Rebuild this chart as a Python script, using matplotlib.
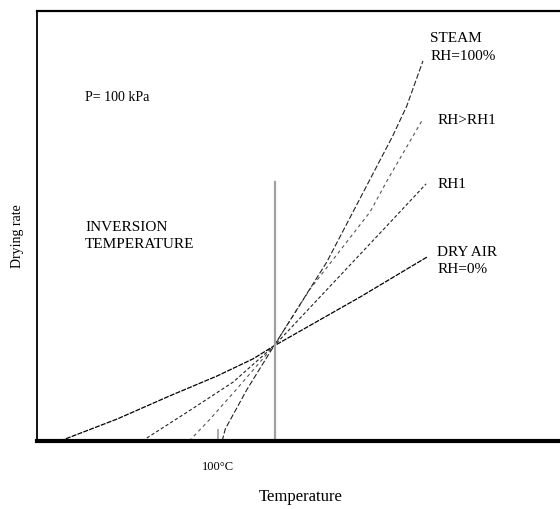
import matplotlib.pyplot as plt

plt.rcParams['font.family'] = ['Liberation Serif', 'DejaVu Serif']

# curves (arbitrary temperature / rate units)
dry_x = [4.4, 15.3, 25.4, 34.4, 41.3, 45.3, 61.8, 74.6]
dry_y = [0, 5.1, 10.5, 15.1, 19.1, 22.1, 33.5, 42.8]

rh1_x = [20.1, 28.7, 37.5, 45.3, 68.1, 74.4]
rh1_y = [0, 6.7, 13.7, 22.1, 51.6, 59.8]

rhgt_x = [29.1, 33.1, 38.2, 45.3, 52.2, 63.7, 67.1, 73.8]
rhgt_y = [0, 5.1, 12.1, 22.1, 35.3, 53.3, 60.9, 74.9]

steam_x = [35.4, 36.0, 40.2, 45.3, 55.4, 63.7, 68.0, 70.7, 73.8]
steam_y = [0, 2.8, 12.1, 22.1, 41.6, 60.9, 70.9, 77.9, 88.4]

t_inversion = 45.5
inv_top = 60.2
t_100 = 34.6

fig = plt.figure(figsize=(5.6, 5.1), dpi=100)
ax = fig.add_axes([37/560, 68/510, 523/560, 430/510])
ax.set_xlim(0, 100)
ax.set_ylim(0, 100)

ax.plot(dry_x, dry_y, color='black', lw=0.9, ls=(0, (4, 1)))
ax.plot(rh1_x, rh1_y, color='#222222', lw=0.8, ls=(0, (3, 2)))
ax.plot(rhgt_x, rhgt_y, color='#555555', lw=0.8, ls=(0, (3, 3)))
ax.plot(steam_x, steam_y, color='#222222', lw=0.8, ls=(0, (5, 2)))

ax.plot([t_inversion, t_inversion], [0, inv_top], color='#a0a0a0', lw=1.6)

ax.spines['right'].set_visible(False)
ax.spines['left'].set_linewidth(1.3)
ax.spines['top'].set_linewidth(1.6)
ax.spines['bottom'].set_linewidth(3)

ax.set_yticks([])
ax.set_xticks([t_100])
ax.set_xticklabels(['100°C'], fontsize=9)
ax.tick_params(axis='x', direction='in', length=9, width=1.2, color='#a0a0a0', pad=14)

fs = 11
ax.text(9.2, 80.2, 'P= 100 kPa', fontsize=fs-1, va='center')
ax.text(9.2, 51.5, 'INVERSION\nTEMPERATURE', fontsize=fs, va='top', linespacing=1.45)
ax.text(75.2, 95.3, 'STEAM\nRH=100%', fontsize=fs, va='top', linespacing=1.45)
ax.text(76.5, 76.3, 'RH>RH1', fontsize=fs, va='top')
ax.text(76.5, 61.3, 'RH1', fontsize=fs, va='top')
ax.text(76.5, 45.6, 'DRY AIR\nRH=0%', fontsize=fs, va='top', linespacing=1.45)

fig.text(301/560, 1 - 497/510, 'Temperature', fontsize=12, ha='center', va='center')
fig.text(17/560, 1 - 236/510, 'Drying rate', fontsize=10, ha='center', va='center', rotation=90)

fig.savefig('out.png', dpi=100)
